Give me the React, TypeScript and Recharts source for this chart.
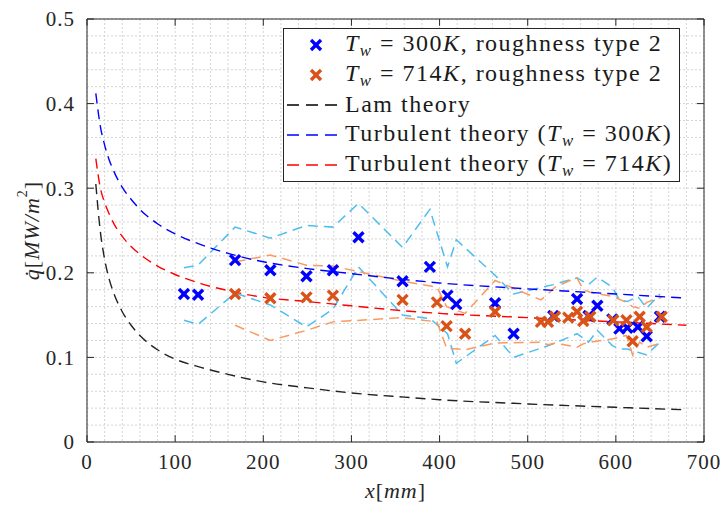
import React from 'react';
import {
  ComposedChart,
  Line,
  Scatter,
  XAxis,
  YAxis,
  CartesianGrid,
  ReferenceLine,
  Legend,
} from 'recharts';

// measured points, Tw = 300K
const x300 = [110, 126, 168, 208, 249, 279, 308, 358, 389, 409, 419, 463, 484, 529, 556, 569, 579, 596, 604, 613, 625, 635, 650];
const q300 = [0.175, 0.174, 0.215, 0.203, 0.196, 0.203, 0.242, 0.190, 0.207, 0.173, 0.163, 0.164, 0.128, 0.149, 0.169, 0.149, 0.161, 0.145, 0.134, 0.135, 0.136, 0.125, 0.148];
const hi300 = [0.206, 0.209, 0.254, 0.241, 0.256, 0.254, 0.282, 0.230, 0.275, 0.207, 0.239, 0.197, 0.175, 0.186, 0.194, 0.186, 0.195, 0.183, 0.168, 0.166, 0.172, 0.158, 0.175];
const lo300 = [0.144, 0.139, 0.176, 0.162, 0.136, 0.157, 0.207, 0.150, 0.146, 0.128, 0.093, 0.126, 0.100, 0.116, 0.128, 0.118, 0.132, 0.114, 0.110, 0.110, 0.106, 0.103, 0.118];

// measured points, Tw = 714K
const x714 = [168, 208, 249, 279, 358, 397, 408, 429, 463, 515, 523, 531, 546, 556, 563, 571, 597, 612, 619, 627, 635, 652];
const q714 = [0.175, 0.170, 0.171, 0.173, 0.168, 0.165, 0.137, 0.128, 0.154, 0.142, 0.142, 0.148, 0.147, 0.154, 0.143, 0.148, 0.144, 0.144, 0.119, 0.148, 0.136, 0.148];
const hi714 = [0.213, 0.221, 0.209, 0.208, 0.190, 0.183, 0.160, 0.152, 0.191, 0.168, 0.175, 0.183, 0.190, 0.194, 0.180, 0.177, 0.172, 0.165, 0.160, 0.158, 0.165, 0.171];
const lo714 = [0.138, 0.120, 0.132, 0.142, 0.147, 0.142, 0.111, 0.109, 0.117, 0.118, 0.115, 0.117, 0.114, 0.112, 0.116, 0.118, 0.122, 0.126, 0.103, 0.118, 0.112, 0.117];

// theory curves
const xTheory = [10, 15, 20, 25, 30, 40, 50, 60, 80, 100, 130, 160, 200, 250, 300, 360, 400, 500, 600, 680];
const qLam = [0.305, 0.250, 0.216, 0.193, 0.177, 0.154, 0.138, 0.126, 0.109, 0.098, 0.088, 0.080, 0.071, 0.064, 0.058, 0.053, 0.050, 0.045, 0.041, 0.038];
const qTurb300 = [0.412, 0.374, 0.351, 0.334, 0.321, 0.301, 0.287, 0.275, 0.258, 0.246, 0.233, 0.223, 0.213, 0.205, 0.199, 0.192, 0.188, 0.181, 0.175, 0.170];
const qTurb714 = [0.335, 0.301, 0.283, 0.270, 0.259, 0.243, 0.231, 0.222, 0.208, 0.198, 0.187, 0.179, 0.171, 0.166, 0.161, 0.155, 0.152, 0.147, 0.142, 0.138];

const xTicks = [0, 100, 200, 300, 400, 500, 600, 700];
const yTicks = [0, 0.1, 0.2, 0.3, 0.4, 0.5];

const pts = (xs: number[], ys: number[]) => xs.map((x, i) => ({ x, y: ys[i] }));

const FONT = "'Liberation Serif', Tinos, 'DejaVu Serif', serif";
const AXIS = '#262626';
const BLUE = '#0000ff';
const ORANGE = '#d95319';
const LIGHTBLUE = '#4dbeee';
const LIGHTORANGE = '#f99a62';
const DASH = '10 6';

const gridX = Array.from({ length: 36 }, (_, i) => i * 20);
const gridY = Array.from({ length: 26 }, (_, i) => i * 0.02);

const Cross = (color: string) => (props: any) => {
  const { cx, cy } = props;
  if (cx == null || cy == null) return <g />;
  const r = 5;
  return (
    <g stroke={color} strokeWidth={3.4}>
      <line x1={cx - r} y1={cy - r} x2={cx + r} y2={cy + r} />
      <line x1={cx - r} y1={cy + r} x2={cx + r} y2={cy - r} />
    </g>
  );
};

const Tw = () => (
  <>
    <i>T</i>
    <i style={{ fontSize: '0.7em', position: 'relative', top: '0.3em' }}>w</i>
  </>
);

const legendRows = [
  { kind: 'mark', color: BLUE, text: <><Tw /> = 300<i>K</i>, roughness type 2</> },
  { kind: 'mark', color: ORANGE, text: <><Tw /> = 714<i>K</i>, roughness type 2</> },
  { kind: 'line', color: '#000000', text: <>Lam theory</> },
  { kind: 'line', color: BLUE, text: <>Turbulent theory (<Tw /> = 300<i>K</i>)</> },
  { kind: 'line', color: '#ff0000', text: <>Turbulent theory (<Tw /> = 714<i>K</i>)</> },
];

function LegendBox() {
  return (
    <div
      style={{
        border: `1px solid ${AXIS}`,
        background: '#fff',
        width: 397,
        height: 154,
        boxSizing: 'border-box',
        fontFamily: FONT,
        fontSize: 24,
        letterSpacing: 1.5,
        color: '#1a1a1a',
        textAlign: 'left',
      }}
    >
      {legendRows.map((r, i) => (
        <div key={i} style={{ display: 'flex', alignItems: 'center', height: 30, lineHeight: '30px', whiteSpace: 'nowrap' }}>
          <svg width={61} height={30} style={{ flex: 'none' }}>
            {r.kind === 'mark' ? (
              <g stroke={r.color} strokeWidth={3.4}>
                <line x1={27} y1={11} x2={37} y2={21} />
                <line x1={27} y1={21} x2={37} y2={11} />
              </g>
            ) : (
              <line x1={3} y1={16} x2={58} y2={16} stroke={r.color} strokeWidth={1.3} strokeDasharray="12 7" />
            )}
          </svg>
          <span>{r.text}</span>
        </div>
      ))}
    </div>
  );
}

const renderXLabel = (props: any) => {
  const vb = props.viewBox || {};
  return (
    <text x={vb.x + vb.width / 2} y={vb.y + 56} textAnchor="middle" fontFamily={FONT} fontSize={22} fill={AXIS} letterSpacing={1}>
      <tspan fontStyle="italic">x</tspan>
      <tspan>[</tspan>
      <tspan fontStyle="italic">mm</tspan>
      <tspan>]</tspan>
    </text>
  );
};

const renderYLabel = (props: any) => {
  const vb = props.viewBox || {};
  const cx = 31;
  const cy = vb.y + vb.height / 2;
  return (
    <text x={cx} y={cy} textAnchor="middle" dominantBaseline="central" fontFamily={FONT} fontSize={22} fill={AXIS} letterSpacing={1} transform={`rotate(-90 ${cx} ${cy})`}>
      <tspan fontStyle="italic">{'q\u0307'}</tspan>
      <tspan>[</tspan>
      <tspan fontStyle="italic">MW/m</tspan>
      <tspan fontSize={14} dy={-9}>2</tspan>
      <tspan dy={9}>]</tspan>
    </text>
  );
};

export default function App() {
  const tickStyle = { fontFamily: FONT, fontSize: 21, fill: AXIS, letterSpacing: 1 };
  return (
    <div style={{ position: 'absolute', left: 0, top: 0, background: '#fff' }}>
      <ComposedChart width={726} height={509} margin={{ top: 19, right: 22, bottom: 0, left: 0 }}>
        <CartesianGrid
          stroke="#d4d4d4"
          strokeDasharray="2 2"
          verticalCoordinatesGenerator={({ offset }: any) =>
            gridX.map((v) => offset.left + (v / 700) * offset.width)
          }
          horizontalCoordinatesGenerator={({ offset }: any) =>
            gridY.map((v) => offset.top + (1 - v / 0.5) * offset.height)
          }
        />
        <XAxis
          type="number"
          dataKey="x"
          domain={[0, 700]}
          ticks={xTicks}
          allowDataOverflow
          height={67}
          tickLine={false}
          tickSize={0}
          tickMargin={12}
          axisLine={{ stroke: AXIS }}
          tick={tickStyle}
          label={renderXLabel}
        />
        <YAxis
          type="number"
          dataKey="y"
          domain={[0, 0.5]}
          ticks={yTicks}
          allowDataOverflow
          width={87}
          tickLine={false}
          tickSize={0}
          tickMargin={12}
          axisLine={{ stroke: AXIS }}
          tick={tickStyle}
          tickFormatter={(v: number) => (v === 0 ? '0' : v.toFixed(1))}
          label={renderYLabel}
        />
        <ReferenceLine y={0.5} stroke={AXIS} ifOverflow="visible" />
        <ReferenceLine x={700} stroke={AXIS} ifOverflow="visible" />
        {xTicks.map((t) => (
          <ReferenceLine key={'bt' + t} segment={[{ x: t, y: 0 }, { x: t, y: 0.008 }]} stroke={AXIS} ifOverflow="visible" />
        ))}
        {xTicks.map((t) => (
          <ReferenceLine key={'tt' + t} segment={[{ x: t, y: 0.5 }, { x: t, y: 0.492 }]} stroke={AXIS} ifOverflow="visible" />
        ))}
        {yTicks.map((t) => (
          <ReferenceLine key={'lt' + t} segment={[{ x: 0, y: t }, { x: 8, y: t }]} stroke={AXIS} ifOverflow="visible" />
        ))}
        {yTicks.map((t) => (
          <ReferenceLine key={'rt' + t} segment={[{ x: 700, y: t }, { x: 692, y: t }]} stroke={AXIS} ifOverflow="visible" />
        ))}

        <Line data={pts(x300, hi300)} dataKey="y" type="linear" stroke={LIGHTBLUE} strokeWidth={1.5} strokeDasharray={DASH} dot={false} isAnimationActive={false} legendType="none" />
        <Line data={pts(x300, lo300)} dataKey="y" type="linear" stroke={LIGHTBLUE} strokeWidth={1.5} strokeDasharray={DASH} dot={false} isAnimationActive={false} legendType="none" />
        <Line data={pts(x714, hi714)} dataKey="y" type="linear" stroke={LIGHTORANGE} strokeWidth={1.5} strokeDasharray={DASH} dot={false} isAnimationActive={false} legendType="none" />
        <Line data={pts(x714, lo714)} dataKey="y" type="linear" stroke={LIGHTORANGE} strokeWidth={1.5} strokeDasharray={DASH} dot={false} isAnimationActive={false} legendType="none" />

        <Line data={pts(xTheory, qLam)} dataKey="y" type="monotone" stroke="#222" strokeWidth={1.4} strokeDasharray={DASH} dot={false} isAnimationActive={false} />
        <Line data={pts(xTheory, qTurb300)} dataKey="y" type="monotone" stroke={BLUE} strokeWidth={1.4} strokeDasharray={DASH} dot={false} isAnimationActive={false} />
        <Line data={pts(xTheory, qTurb714)} dataKey="y" type="monotone" stroke="#ff0000" strokeWidth={1.4} strokeDasharray={DASH} dot={false} isAnimationActive={false} />

        <Scatter data={pts(x300, q300)} fill={BLUE} shape={Cross(BLUE)} isAnimationActive={false} />
        <Scatter data={pts(x714, q714)} fill={ORANGE} shape={Cross(ORANGE)} isAnimationActive={false} />

        <Legend
          layout="horizontal"
          verticalAlign="middle"
          align="center"
          content={() => <LegendBox />}
          wrapperStyle={{ position: 'absolute', left: 283, top: 28, width: 397, height: 154 }}
        />
      </ComposedChart>
    </div>
  );
}
